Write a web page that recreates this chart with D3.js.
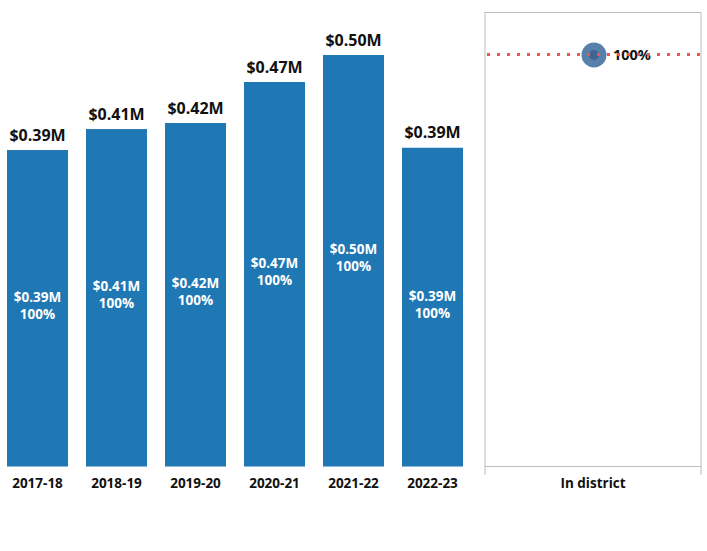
<!DOCTYPE html>
<html>
<head>
<meta charset="utf-8">
<script src="https://cdn.jsdelivr.net/npm/d3@7"></script>
<style>
  body { margin: 0; background: #fff; }
  text { font-family: "Open Sans", "DejaVu Sans", sans-serif; font-weight: bold; }
</style>
</head>
<body>
<div id="chart"></div>
<script>
// chart values
var years = ["2017-18", "2018-19", "2019-20", "2020-21", "2021-22", "2022-23"];
var amounts = [0.3876, 0.4133, 0.4207, 0.4709, 0.504, 0.3904];   // $ millions
var shares = [1, 1, 1, 1, 1, 1];
var districtCats = ["In district"];
var districtShare = [1];

var width = 707,
    height = 551,
    baseline = 466.5,
    plotTop = 55;

var svg = d3.select("#chart")
            .append("svg")
              .attr("width", width)
              .attr("height", height);

var x = d3.scaleBand()
          .domain(years)
          .range([-2, 472])
          .paddingInner(0.228)
          .paddingOuter(0.114);

var y = d3.scaleLinear()
          .domain([0, d3.max(amounts)])
          .range([baseline, plotTop]);

var fmtMoney = (d) => "$" + d3.format(".2f")(d) + "M";
var fmtPct = d3.format(".0%");

var data = years.map((yr, i) => ({year: yr, amount: amounts[i], share: shares[i]}));

// bars
svg.selectAll("rect.bar")
   .data(data)
   .enter()
   .append("rect")
     .attr("class", "bar")
     .attr("x", (d) => x(d.year))
     .attr("y", (d) => y(d.amount))
     .attr("width", x.bandwidth())
     .attr("height", (d) => baseline - y(d.amount))
     .style("fill", "#1f77b4");

// labels above bars
svg.selectAll("text.top")
   .data(data)
   .enter()
   .append("text")
     .attr("class", "top")
     .attr("x", (d) => x(d.year) + x.bandwidth() / 2)
     .attr("y", (d) => y(d.amount) - 9.5)
     .attr("text-anchor", "middle")
     .style("font-size", "16px")
     .style("fill", "#111")
     .text((d) => fmtMoney(d.amount));

// labels inside bars
var inner = svg.selectAll("text.inner")
   .data(data)
   .enter()
   .append("text")
     .attr("class", "inner")
     .attr("text-anchor", "middle")
     .style("font-size", "13.5px")
     .style("fill", "#fff")
     .attr("transform", (d) => "translate(" + (x(d.year) + x.bandwidth() / 2) + "," + ((y(d.amount) + baseline) / 2 - 3) + ")");
inner.append("tspan").attr("x", 0).attr("y", -3.5).text((d) => fmtMoney(d.amount));
inner.append("tspan").attr("x", 0).attr("y", 13.5).text((d) => fmtPct(d.share));

// x axis labels
svg.append("g")
   .attr("transform", "translate(0," + baseline + ")")
   .call(d3.axisBottom(x).tickSize(0).tickPadding(12))
   .call((g) => g.select(".domain").remove())
   .selectAll("text")
     .style("font-size", "13.5px")
     .style("font-family", "'Open Sans', sans-serif")
     .style("font-weight", "bold")
     .style("fill", "#111");

// right panel: district share
var x2 = d3.scaleBand()
           .domain(districtCats)
           .range([485, 701]);

var y2 = d3.scaleLinear()
           .domain([0, 1])
           .range([baseline, plotTop]);

var panel = svg.append("g");

panel.append("rect")
     .attr("x", 485)
     .attr("y", 12.5)
     .attr("width", 216)
     .attr("height", baseline - 12.5)
     .style("fill", "none")
     .style("stroke", "#bdbdbd")
     .style("stroke-width", 1);

panel.selectAll("line.edge")
     .data([485, 701])
     .enter()
     .append("line")
       .attr("x1", (d) => d).attr("x2", (d) => d)
       .attr("y1", baseline).attr("y2", 475)
       .style("stroke", "#bdbdbd");

panel.append("g")
     .attr("transform", "translate(0," + baseline + ")")
     .call(d3.axisBottom(x2).tickSize(0).tickPadding(12))
     .call((g) => g.select(".domain").remove())
     .selectAll("text")
       .style("font-size", "13.5px")
       .style("font-family", "'Open Sans', sans-serif")
       .style("font-weight", "bold")
       .style("fill", "#111");

var cx = x2(districtCats[0]) + x2.bandwidth() / 2 + 1;

panel.append("circle")
     .attr("cx", cx)
     .attr("cy", y2(districtShare[0]))
     .attr("r", 12.5)
     .style("fill", "#4e79a7")
     .style("opacity", 0.95);

panel.append("circle")
     .attr("cx", cx)
     .attr("cy", y2(districtShare[0]))
     .attr("r", 5)
     .style("fill", "#3e6690");

panel.append("text")
     .attr("x", cx + 19)
     .attr("y", y2(districtShare[0]) + 5)
     .style("font-size", "14.5px")
     .style("fill", "#111")
     .text(fmtPct(districtShare[0]));

panel.append("line")
     .attr("x1", 487).attr("x2", 707)
     .attr("y1", y2(districtShare[0]) - 0.5).attr("y2", y2(districtShare[0]) - 0.5)
     .style("stroke", "#ee5558")
     .style("stroke-width", 3)
     .style("shape-rendering", "crispEdges")
     .style("stroke-dasharray", "3,7");
</script>
</body>
</html>
